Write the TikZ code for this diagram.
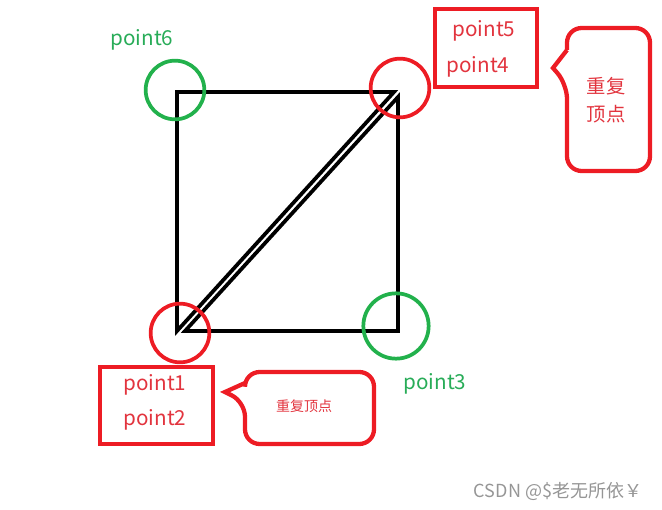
\documentclass[tikz,border=0pt]{standalone}
\usepackage{fontspec}
\setmainfont{Noto Sans CJK SC}
\usepackage{tikz}
\usetikzlibrary{positioning,calc}
\definecolor{paintred}{RGB}{237,28,36}
\definecolor{paintgreen}{RGB}{34,177,76}
\definecolor{labelred}{RGB}{226,52,62}
\definecolor{labelgreen}{RGB}{40,172,88}
\definecolor{markgray}{RGB}{150,150,150}
\tikzset{
  edge-line/.style={draw=black, line width=2.8pt, line join=miter},
  ring-red/.style={circle, draw=paintred, line width=2.8pt, inner sep=0pt, minimum size=44pt},
  ring-green/.style={circle, draw=paintgreen, line width=2.8pt, inner sep=0pt, minimum size=44pt},
  label-box/.style={draw=paintred, line width=3.4pt, inner sep=0pt},
  callout-line/.style={draw=paintred, line width=3.2pt, rounded corners=11pt},
  point-red/.style={font=\fontsize{15.5}{18}\selectfont, color=labelred},
  point-green/.style={font=\fontsize{15.5}{18}\selectfont, color=labelgreen},
  note-text/.style={font=\fontsize{14.5}{21}\selectfont, color=labelred, align=center}
}
\begin{document}
\begin{tikzpicture}[x=0.75pt, y=-0.75pt]
\useasboundingbox (0,0) rectangle (662,510);

% Vertices of the two triangles
\coordinate (v1) at (177,331);
\coordinate (v6) at (177,92);
\coordinate (v5) at (394,92);
\coordinate (v4) at (398,97);
\coordinate (v3) at (398,331);
\coordinate (v2) at (185,331);

% Triangles
\draw[edge-line] (v6) -- (v5) -- (v1) -- cycle;
\draw[edge-line] (v4) -- (v3) -- (v2) -- cycle;

% Vertex rings
\node[ring-green] (ring6) at (175,90) {};
\node[ring-red] (ring45) at (400,88) {};
\node[ring-red] (ring12) at (180,333) {};
\node[ring-green, minimum size=49pt] (ring3) at (396,326) {};

% Green labels
\node[point-green] (lab6) at (142,40) {point6};
\node[point-green] (lab3) at (435,384) {point3};

% Top box
\draw[label-box] (435,9) rectangle (537,87);
\node[point-red] (lab5) at (484,31) {point5};
\node[point-red] (lab4) at (478,67) {point4};

% Bottom box
\draw[label-box] (100,367) rectangle (213,444);
\node[point-red] (lab1) at (155,385) {point1};
\node[point-red] (lab2) at (155,420) {point2};

% Callouts
\draw[callout-line] (567,50) -- (567,28) -- (650,28) -- (650,171) -- (567,171) -- (567,84)
  [sharp corners] -- (553,68) -- (567,50);
\node[note-text] (note45) at (606,100) {重复\\顶点};

\draw[callout-line] (245,383) -- (245,372) -- (374,372) -- (374,444) -- (245,444) -- (245,402)
  [sharp corners] -- (225,392) -- (245,383);
\node[note-text, font=\fontsize{10.5}{12}\selectfont] (note12) at (304,406) {重复顶点};

% Watermark
\node[font=\fontsize{13.5}{15}\selectfont, color=markgray] (mark) at (558,491) {CSDN @\$老无所依￥};
\end{tikzpicture}
\end{document}
